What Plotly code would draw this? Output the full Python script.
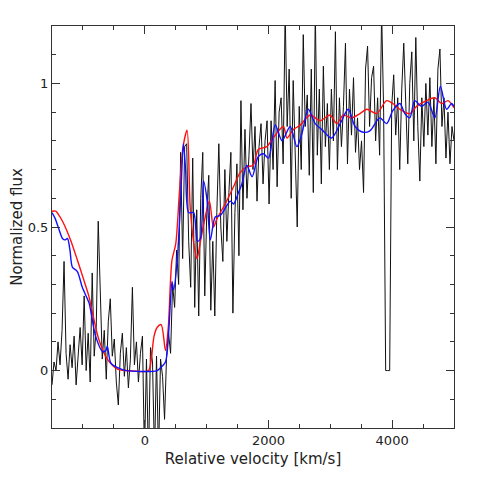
import numpy as np
import plotly.graph_objects as go

# observed spectrum, sampled every 32.5 km/s from -1500 to 5000
vel_start, vel_step = -1500, 32.5
flux_obs = [
    -0.05, 0.03, 0.00, 0.10, 0.02, 0.14, 0.38, 0.06, -0.03, 0.09,
    0.01, 0.12, -0.05, 0.07, 0.15, 0.02, 0.26, 0.00, 0.13, -0.04,
    0.34, 0.05, 0.15, 0.52, 0.23, 0.04, 0.14, -0.03, 0.17, 0.25,
    0.05, 0.11, -0.04, -0.12, 0.06, 0.13, -0.02, 0.08, -0.06, 0.04,
    0.29, 0.02, 0.10, -0.04, 0.06, 0.12, -0.30, 0.04, -0.32, 0.08,
    0.03, -0.30, 0.05, -0.30, 0.04, -0.02, -0.17, 0.05, 0.13, 0.06,
    0.30, 0.22, 0.42, 0.30, 0.76, 0.39, 0.78, 0.79, 0.45, 0.29,
    0.74, 0.22, 0.56, 0.19, 0.60, 0.76, 0.26, 0.55, 0.68, 0.21,
    0.45, 0.19, 0.55, 0.79, 0.50, 0.38, 0.70, 0.45, 0.62, 0.76,
    0.20, 0.55, 0.72, 0.40, 0.94, 0.56, 0.84, 0.60, 0.75, 0.93,
    0.70, 0.85, 0.59, 0.78, 0.86, 0.65, 0.80, 0.87, 0.58, 0.87,
    0.70, 1.01, 0.64, 0.90, 0.95, 0.72, 1.25, 0.85, 1.05, 0.60,
    1.01, 0.75, 0.50, 0.92, 0.70, 1.17, 0.85, 0.96, 0.68, 1.05,
    0.62, 1.25, 0.75, 0.98, 0.65, 1.06, 0.78, 0.93, 0.70, 0.98,
    0.80, 1.18, 0.70, 0.95, 0.78, 0.92, 1.14, 0.72, 0.98, 0.82,
    1.02, 0.76, 0.88, 0.70, 0.80, 0.62, 1.05, 1.13, 0.85, 1.02,
    1.06, 0.80, 0.95, 0.75, 1.25, 0.90, 0.00, 0.00, 0.00, 0.92,
    1.03, 0.82, 0.95, 0.70, 0.98, 1.14, 0.90, 0.72, 1.00, 1.11,
    0.80, 1.16, 0.85, 0.66, 0.95, 0.78, 1.00, 0.82, 1.02, 0.78,
    0.95, 0.72, 1.05, 1.12, 0.85, 0.95, 0.74, 0.90, 0.72, 0.85,
    0.80,
]
vel_obs = vel_start + vel_step * np.arange(len(flux_obs))

# model 1 (red)
red_vel = [-1500, -1440, -1400, -1330, -1200, -1090, -985, -905, -845, -745,
           -605, -440, -300, 60, 100, 150, 200, 265, 335, 380,
           440, 500, 560, 620, 684, 737, 818, 845, 900, 963,
           1045, 1110, 1170, 1300, 1435, 1545, 1655, 1755, 1835, 1975,
           2075, 2240, 2300, 2405, 2510, 2675, 2835, 2995, 3105, 3210,
           3340, 3480, 3590, 3750, 3910, 4010, 4125, 4285, 4395, 4555,
           4690, 4800, 4905, 4985, 5000]
red_flux = [0.555, 0.555, 0.545, 0.52, 0.455, 0.385, 0.315, 0.26, 0.20, 0.11,
            0.04, 0.005, 0.0, 0.0, 0.03, 0.12, 0.15, 0.16, 0.07, 0.15,
            0.385, 0.44, 0.62, 0.78, 0.837, 0.56, 0.41, 0.39, 0.45, 0.52,
            0.59, 0.50, 0.53, 0.58, 0.64, 0.69, 0.71, 0.715, 0.77, 0.78,
            0.81, 0.85, 0.81, 0.84, 0.854, 0.89, 0.87, 0.89, 0.86, 0.89,
            0.88, 0.895, 0.91, 0.895, 0.94, 0.93, 0.91, 0.895, 0.92, 0.94,
            0.95, 0.93, 0.94, 0.92, 0.915]

# model 2 (blue)
blue_vel = [-1500, -1450, -1400, -1330, -1290, -1250, -1210, -1170, -1090, -1010,
            -900, -875, -795, -680, -630, -605, -550, -440, -300, 200,
            255, 335, 385, 440, 465, 525, 580, 625, 660, 710,
            790, 850, 900, 950, 1010, 1060, 1140, 1220, 1385, 1435,
            1515, 1570, 1650, 1735, 1835, 1920, 2000, 2110, 2220, 2350,
            2460, 2540, 2645, 2755, 2860, 3020, 3160, 3290, 3400, 3530,
            3640, 3800, 3910, 4010, 4125, 4205, 4285, 4365, 4475, 4580,
            4690, 4780, 4880, 4960, 5000]
blue_flux = [0.55, 0.53, 0.50, 0.46, 0.455, 0.46, 0.42, 0.36, 0.345, 0.29,
             0.235, 0.21, 0.12, 0.066, 0.07, 0.085, 0.027, 0.01, 0.0, 0.0,
             0.01, 0.03, 0.13, 0.31, 0.28, 0.385, 0.60, 0.79, 0.70, 0.55,
             0.55, 0.45, 0.46, 0.66, 0.59, 0.455, 0.535, 0.54, 0.59, 0.58,
             0.62, 0.65, 0.715, 0.675, 0.745, 0.755, 0.74, 0.855, 0.80, 0.85,
             0.78, 0.825, 0.91, 0.86, 0.84, 0.81, 0.86, 0.91, 0.85, 0.83,
             0.835, 0.88, 0.86, 0.905, 0.93, 0.895, 0.88, 0.94, 0.92, 0.935,
             0.88, 0.99, 0.91, 0.93, 0.92]

fig = go.Figure()
fig.add_trace(go.Scatter(x=vel_obs, y=flux_obs, mode="lines",
                         line=dict(color="#111111", width=1), showlegend=False))
fig.add_trace(go.Scatter(x=red_vel, y=red_flux, mode="lines",
                         line=dict(color="#ff1010", width=1.4, shape="spline", smoothing=0.8),
                         showlegend=False))
fig.add_trace(go.Scatter(x=blue_vel, y=blue_flux, mode="lines",
                         line=dict(color="#1010ff", width=1.4, shape="spline", smoothing=0.8),
                         showlegend=False))

axis_common = dict(
    showgrid=False, zeroline=False, automargin=False,
    showline=True, linecolor="#333333", linewidth=1, mirror="ticks",
    ticks="inside", ticklen=8, tickcolor="#333333", tickwidth=1,
    tickfont=dict(family="DejaVu Sans", size=13, color="#222222"),
)

fig.update_xaxes(
    range=[-1500, 5000], tick0=0, dtick=2000,
    minor=dict(dtick=500, ticks="inside", ticklen=4, tickcolor="#333333"),
    title=dict(text="Relative velocity [km/s]", standoff=6,
               font=dict(family="DejaVu Sans", size=15, color="#222222")),
    **axis_common,
)
fig.update_yaxes(
    range=[-0.2, 1.2], tick0=0, dtick=0.5,
    minor=dict(dtick=0.1, ticks="inside", ticklen=4, tickcolor="#333333"),
    title=dict(text="Normalized flux", standoff=15,
               font=dict(family="DejaVu Sans", size=15, color="#222222")),
    **axis_common,
)

# the page adds an 8 px body margin, so the margins are trimmed to match
fig.update_layout(
    width=480, height=480,
    margin=dict(l=44, r=34, t=18, b=60),
    plot_bgcolor="white", paper_bgcolor="white",
)

fig.write_html("out.html")
